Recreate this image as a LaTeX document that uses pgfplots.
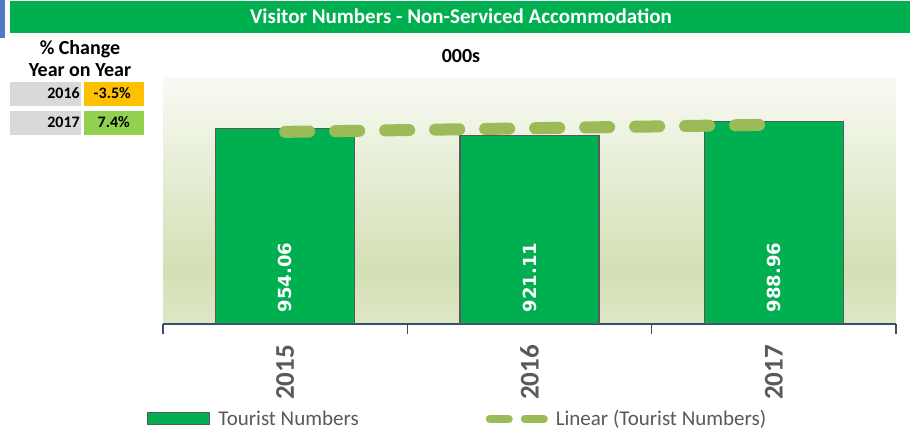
\documentclass[border=0pt]{standalone}
\usepackage{fontspec}
\setmainfont{Carlito}
\newfontfamily\dvs{DejaVu Sans}
\usepackage{pgfplots}
\pgfplotsset{compat=1.18}
\definecolor{barG}{HTML}{00B050}
\definecolor{titleG}{HTML}{00B050}
\definecolor{trendG}{HTML}{9BBB59}
\definecolor{txtG}{HTML}{595959}
\definecolor{axB}{HTML}{34506F}
\definecolor{boxGray}{HTML}{D9D9D9}
\definecolor{boxOr}{HTML}{FFC000}
\definecolor{boxLG}{HTML}{92D050}
\definecolor{blueS}{HTML}{4F7BC4}
\definecolor{bgT}{HTML}{F8FAF3}
\definecolor{bgM}{HTML}{D3E0B5}
\definecolor{bgB}{HTML}{DDE7C7}
\pgfdeclareverticalshading{plotbg}{100bp}{color(0bp)=(bgB); color(25bp)=(bgB); color(36bp)=(bgM); color(75bp)=(bgT); color(100bp)=(bgT)}
\begin{document}
\begin{tikzpicture}
\path[use as bounding box] (0,0) rectangle (910pt,430pt);
\fill[blueS] (0,392pt) rectangle (5pt,430pt);
\fill[titleG] (10pt,397pt) rectangle (910pt,429pt);
\node[text=white, inner sep=0pt, anchor=base, font=\bfseries\fontsize{21}{24}\selectfont] at (461pt,406pt) {Visitor Numbers - Non-Serviced Accommodation};
\node[anchor=base, inner sep=0pt, font=\bfseries\fontsize{20}{20}\selectfont] at (80pt,375pt) {\% Change};
\node[anchor=base, inner sep=0pt, font=\bfseries\fontsize{20}{20}\selectfont] at (80pt,353pt) {Year on Year};
\node[anchor=base, inner sep=0pt, font=\bfseries\fontsize{20}{20}\selectfont] at (461pt,367pt) {000s};
\fill[boxGray] (10pt,324pt) rectangle (81pt,348pt);
\fill[boxOr] (84pt,324pt) rectangle (144pt,348pt);
\fill[boxGray] (10pt,295pt) rectangle (81pt,319pt);
\fill[boxLG] (84pt,295pt) rectangle (144pt,319pt);
\node[anchor=base east, inner sep=0pt, font=\bfseries\fontsize{16}{16}\selectfont] at (80pt,331pt) {2016};
\node[anchor=base east, inner sep=0pt, font=\bfseries\fontsize{16}{16}\selectfont] at (131pt,331pt) {-3.5\%};
\node[anchor=base east, inner sep=0pt, font=\bfseries\fontsize{16}{16}\selectfont] at (80pt,302pt) {2017};
\node[anchor=base east, inner sep=0pt, font=\bfseries\fontsize{16}{16}\selectfont] at (130pt,302pt) {7.4\%};
\begin{axis}[
  at={(163pt,106pt)}, anchor=south west,
  width=733pt, height=246pt, scale only axis,
  xmin=-0.5, xmax=2.5, ymin=0, ymax=1200,
  axis background/.style={shading=plotbg},
  axis y line=none, axis x line*=bottom,
  x axis line style={-, draw=axB, line width=1.5pt},
  ytick=\empty,
  xtick={0,1,2}, xticklabels={2015,2016,2017},
  major tick length=0pt,
  minor xtick={-0.5,0.5,1.5,2.5}, minor tick length=10pt,
  tick align=outside,
  minor tick style={draw=axB, line width=1.5pt},
  xticklabel shift=21pt,
  xticklabel style={rotate=90, anchor=east, inner sep=0pt, text=txtG, font=\bfseries\fontsize{27}{27}\selectfont},
  legend columns=2,
  legend style={at={(axis description cs:-0.0218,-0.385)}, anchor=west, draw=none, fill=none, inner sep=0pt,
    nodes={inner sep=0pt, text=txtG, font=\fontsize{21}{21}\selectfont},
    /tikz/every odd column/.style={column sep=8pt},
    /tikz/every even column/.style={column sep=127pt}},
]
\addplot[ybar, bar width=139pt, fill=barG, draw=txtG, line width=1.2pt,
  /pgf/number format/assume math mode=true,
  nodes near coords, visualization depends on={y \as \rawy},
  nodes near coords style={shift={(axis direction cs:0,54-\rawy)}, rotate=90, anchor=west, inner sep=0pt, text=white, font=\dvs\bfseries\fontsize{18}{18}\selectfont},
  legend image code/.code={\draw[fill=barG, draw=txtG, line width=1.2pt] (0pt,-6pt) rectangle (62pt,6pt);}]
  coordinates {(0,954.06) (1,921.11) (2,988.96)};
\addlegendentry{Tourist Numbers}
\addplot[trendG, line width=12pt, line cap=round, dash pattern=on 24pt off 26pt, mark=none,
  legend image code/.code={\draw[trendG, line width=8pt, line cap=round, dash pattern=on 19pt off 16pt] (4pt,0pt) -- (58pt,0pt);}]
  coordinates {(0,937.26) (1,954.71) (2,972.16)};
\addlegendentry{Linear (Tourist Numbers)}
\end{axis}
\end{tikzpicture}
\end{document}
